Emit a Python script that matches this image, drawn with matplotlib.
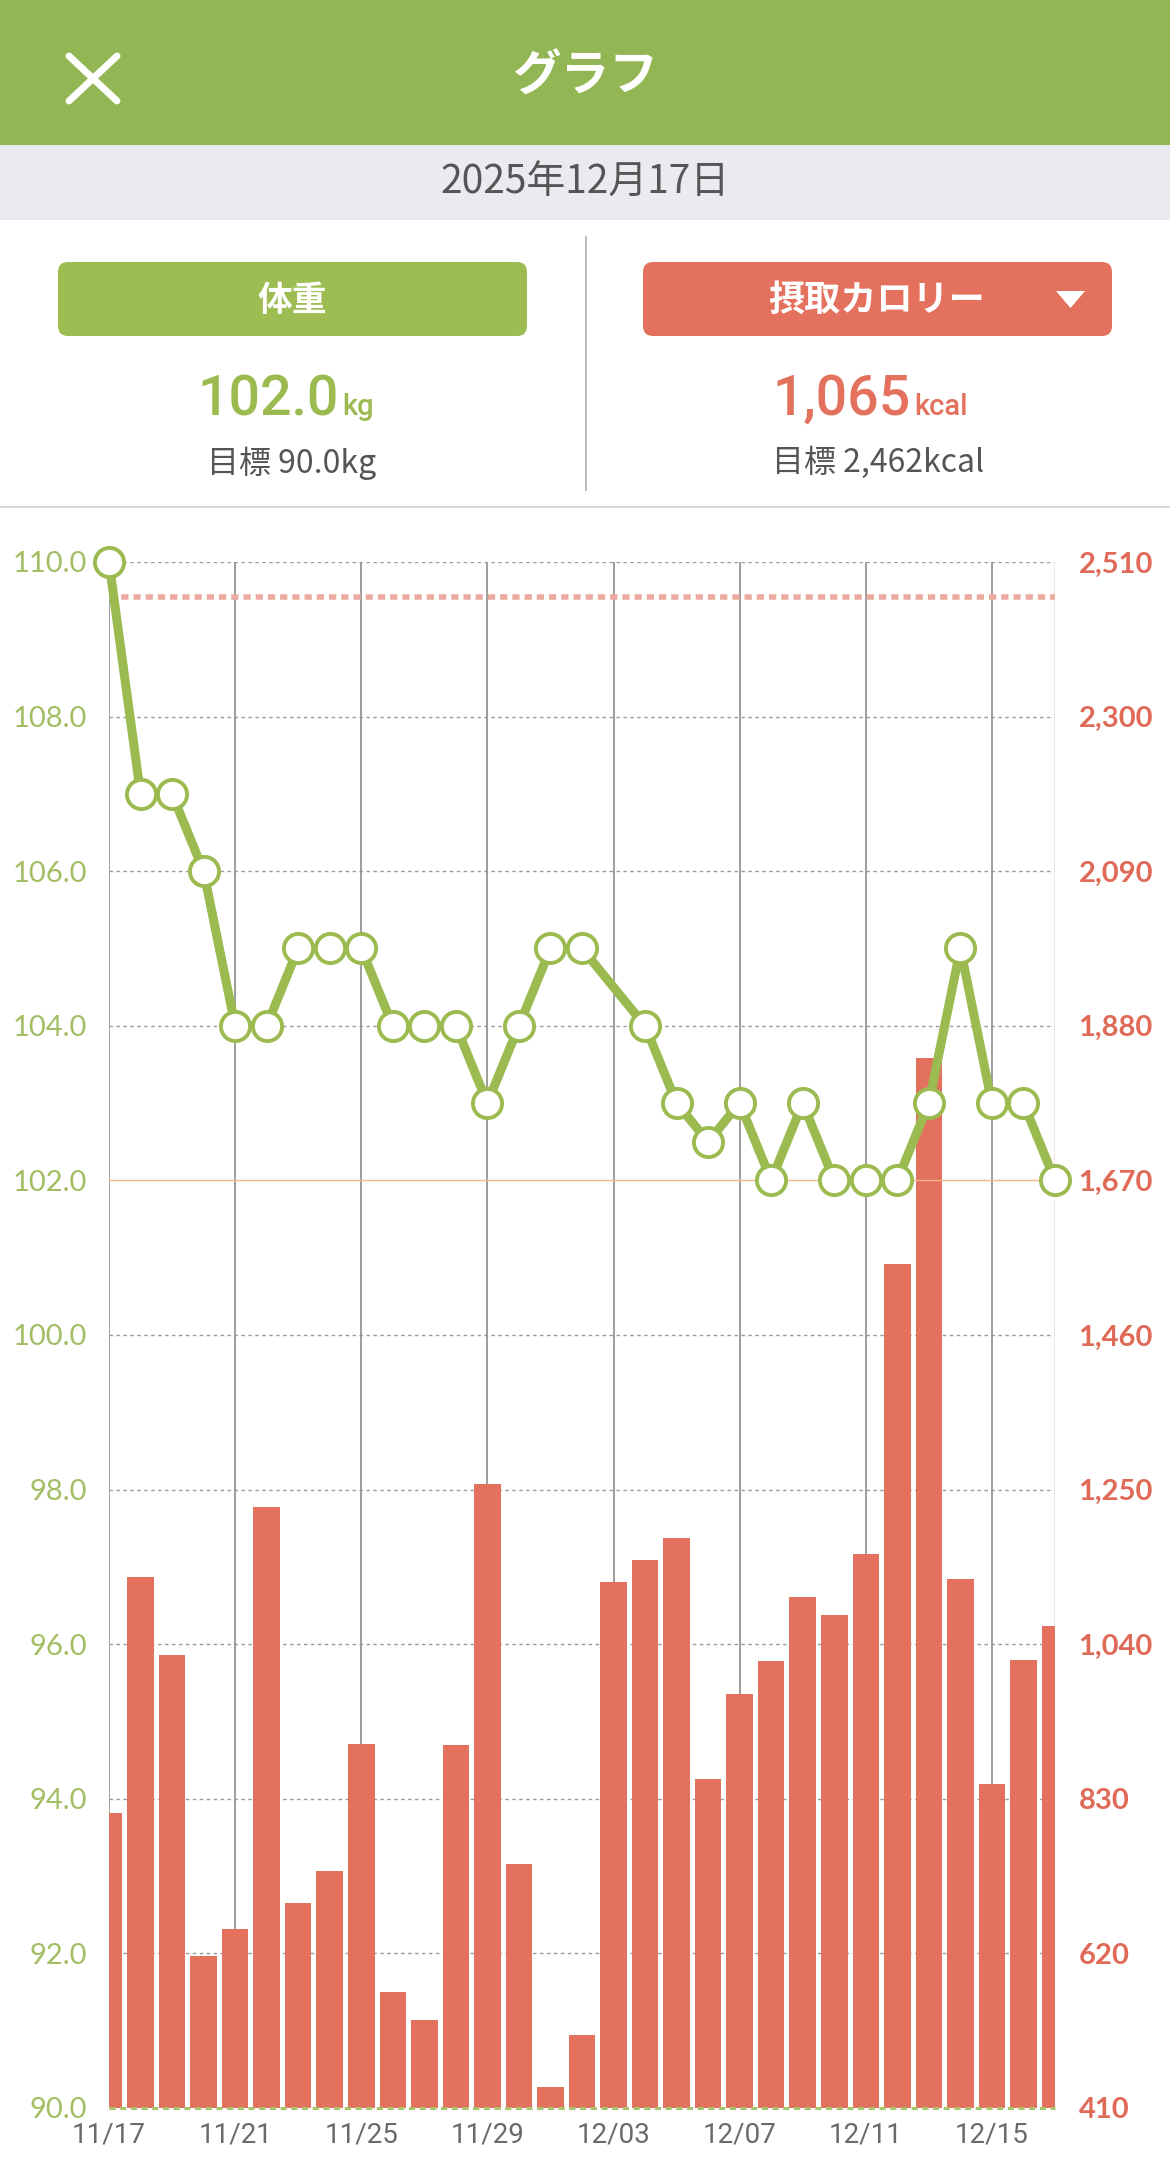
import numpy as np
import matplotlib
matplotlib.use("Agg")
import matplotlib.pyplot as plt
from matplotlib.patches import Rectangle, FancyBboxPatch, Polygon

# データ (11/17 - 12/17)
dates = ['11/17', '11/18', '11/19', '11/20', '11/21', '11/22', '11/23', '11/24',
         '11/25', '11/26', '11/27', '11/28', '11/29', '11/30', '12/01', '12/02',
         '12/03', '12/04', '12/05', '12/06', '12/07', '12/08', '12/09', '12/10',
         '12/11', '12/12', '12/13', '12/14', '12/15', '12/16', '12/17']
weight = [110.0, 107.0, 107.0, 106.0, 104.0, 104.0, 105.0, 105.0,
          105.0, 104.0, 104.0, 104.0, 103.0, 104.0, 105.0, 105.0,
          np.nan, 104.0, 103.0, 102.5, 103.0, 102.0, 103.0, 102.0,
          102.0, 102.0, 103.0, 105.0, 103.0, 103.0, 102.0]
kcal = [811, 1131, 1025, 616, 653, 1227, 688, 732,
        905, 567, 529, 903, 1257, 742, 439, 509,
        1124, 1154, 1184, 857, 972, 1017, 1104, 1080,
        1162, 1556, 1836, 1128, 850, 1019, 1065]
tick_dates = ['11/17', '11/21', '11/25', '11/29', '12/03', '12/07', '12/11', '12/15']
weight_ticks = [90, 92, 94, 96, 98, 100, 102, 104, 106, 108, 110]
kcal_ticks = [410, 620, 830, 1040, 1250, 1460, 1670, 1880, 2090, 2300, 2510]

date_str = '2025年12月17日'
weight_now = 102.0
weight_goal = 90.0
kcal_now = 1065
kcal_goal = 2462

GREEN = '#9bbb50'
HEADER_GREEN = '#93b654'
RED = '#e4705e'
GRAY_TXT = '#555555'
JP = ['Noto Sans CJK JP', 'DejaVu Sans']

W, H = 1170, 2184
fig = plt.figure(figsize=(W / 100, H / 100), dpi=100)
fig.patch.set_facecolor('white')

# 背景用の軸 (ピクセル座標)
bg = fig.add_axes([0, 0, 1, 1])
bg.set_xlim(0, W)
bg.set_ylim(H, 0)
bg.axis('off')
bg.set_zorder(-1)

# ヘッダー
bg.add_patch(Rectangle((0, 0), W, 145, color=HEADER_GREEN, lw=0))
bg.plot([69, 117], [56, 101], color='white', lw=5, solid_capstyle='round')
bg.plot([117, 69], [56, 101], color='white', lw=5, solid_capstyle='round')
bg.text(585, 76, 'グラフ', color='white', fontsize=35, fontweight='bold',
        ha='center', va='center', family=JP)

# 日付バー
bg.add_patch(Rectangle((0, 145), W, 75, color='#eaebf0', lw=0))
bg.text(585, 183, date_str, color=GRAY_TXT, fontsize=28, ha='center', va='center', family=JP)

# ボタン
bg.add_patch(FancyBboxPatch((58, 262), 469, 74, boxstyle='round,pad=0,rounding_size=10',
                            color='#9dbd52', lw=0))
bg.text(292, 300, '体重', color='white', fontsize=25, fontweight='bold',
        ha='center', va='center', family=JP)
bg.add_patch(FancyBboxPatch((643, 262), 469, 74, boxstyle='round,pad=0,rounding_size=10',
                            color=RED, lw=0))
bg.text(877, 300, '摂取カロリー', color='white', fontsize=26, fontweight='bold',
        ha='center', va='center', family=JP)
bg.add_patch(Polygon([[1056, 291], [1085, 291], [1070.5, 308]], closed=True, color='white', lw=0))

# 区切り線
bg.plot([586, 586], [237, 490], color='#b0b0b0', lw=1.2)
bg.plot([0, W], [507, 507], color='#cfcfcf', lw=1.2)

# 現在値
bg.text(339, 415, f'{weight_now:.1f}', color=GREEN, fontsize=40, fontweight='medium',
        ha='right', va='baseline', family='Roboto')
bg.text(342, 415, 'kg', color=GREEN, fontsize=21, fontweight='medium',
        ha='left', va='baseline', family='Roboto')
bg.text(292, 463, f'目標 {weight_goal:.1f}kg', color=GRAY_TXT, fontsize=23,
        ha='center', va='center', family=JP)

bg.text(911, 415, f'{kcal_now:,}', color=RED, fontsize=40, fontweight='medium',
        ha='right', va='baseline', family='Roboto')
bg.text(914, 415, 'kcal', color=RED, fontsize=21, fontweight='medium',
        ha='left', va='baseline', family='Roboto')
bg.text(878, 463, f'目標 {kcal_goal:,}kcal', color=GRAY_TXT, fontsize=23,
        ha='center', va='center', family=JP)

# グラフ本体
left, right, top, bottom = 109, 1055, 562, 2108
rect = [left / W, 1 - bottom / H, (right - left) / W, (bottom - top) / H]
ax2 = fig.add_axes(rect)   # カロリー (右軸)
ax = fig.add_axes(rect)    # 体重 (左軸)
ax.set_zorder(2)
ax2.set_zorder(1)
ax.patch.set_visible(False)

x = np.arange(len(dates))
w = np.array(weight, dtype=float)
ok = ~np.isnan(w)

ax2.set_xlim(0, len(dates) - 1)
ax2.set_ylim(kcal_ticks[0], kcal_ticks[-1])
ax.set_xlim(0, len(dates) - 1)
ax.set_ylim(weight_ticks[0], weight_ticks[-1])

# グリッド
for k in kcal_ticks[1:]:
    if k == 1670:
        continue
    ax2.axhline(k, color='#9a9a9a', lw=1.0, ls=(0, (2.5, 2.5)), zorder=0)
for d in tick_dates:
    ax2.axvline(dates.index(d), color='#959595', lw=1.3, zorder=0)
ax2.axvline(len(dates) - 1, color='#efe6d4', lw=1.2, zorder=0)

ax2.bar(x, kcal, width=0.84, color=RED, zorder=2)
ax2.axhline(kcal_goal, color='#edaaa2', lw=4, ls=(0, (1.3, 0.9)), zorder=3)

ax.axhline(weight_now, color='#f3b98a', lw=1.0, zorder=1)
ax.axhline(weight_goal, color='#a8c46a', lw=2.2, ls=(0, (2, 1.5)), zorder=1, clip_on=False)
ax.plot(x[ok], w[ok], color=GREEN, lw=6.5, marker='o', ms=21, mfc='white',
        mec=GREEN, mew=2.8, zorder=4, clip_on=False)

for a in (ax, ax2):
    for s in a.spines.values():
        s.set_visible(False)
    a.tick_params(length=0)

ax.set_yticks(weight_ticks)
ax.set_yticklabels([f'{v:.1f}' for v in weight_ticks], color='#a2bd62',
                   fontsize=21, family='Lato')
ax.tick_params(axis='y', pad=16)
ax.set_xticks([dates.index(d) for d in tick_dates])
ax.set_xticklabels(tick_dates, color='#6a6a6a', fontsize=20, family='Roboto')
ax.tick_params(axis='x', pad=10)

ax2.yaxis.tick_right()
ax2.set_yticks(kcal_ticks)
ax2.set_yticklabels([f'{v:,}' for v in kcal_ticks], color='#e06a58',
                    fontsize=21, fontweight='bold', family='Lato')
ax2.tick_params(axis='y', pad=17)
ax2.set_xticks([])

fig.savefig('out.png', dpi=100, facecolor='white')
